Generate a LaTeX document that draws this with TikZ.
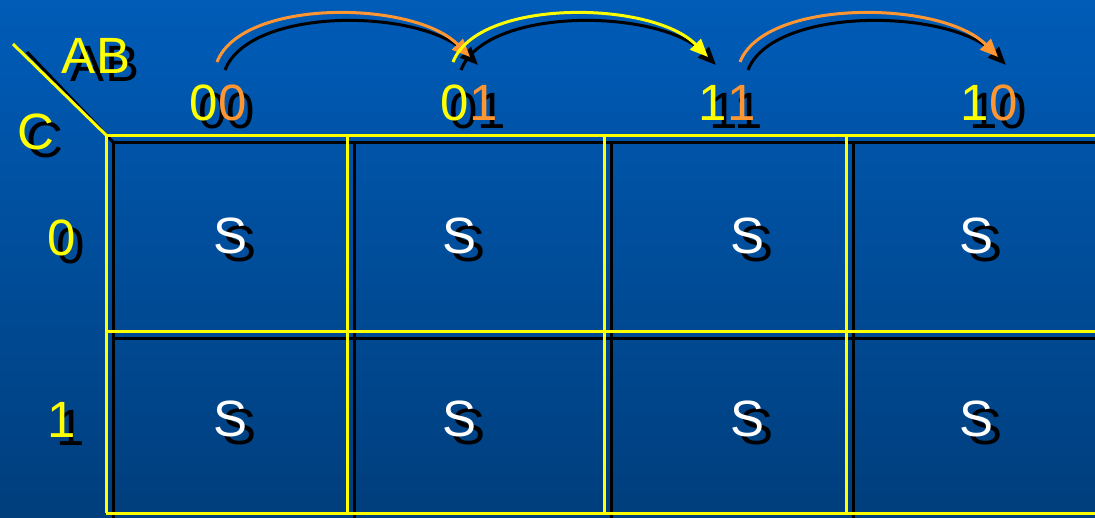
\documentclass[tikz,border=0pt]{standalone}
\usepackage{fontspec}
\setmainfont{Liberation Sans}
\usetikzlibrary{arrows.meta}
\definecolor{kyel}{RGB}{255,255,0}
\definecolor{korg}{RGB}{255,150,50}
\definecolor{ktop}{RGB}{0,92,184}
\definecolor{kbot}{RGB}{0,62,124}

\begin{document}
\begin{tikzpicture}[x=1pt, y=-1pt,
  lbl/.style={inner sep=0pt, font=\fontsize{51}{60}\selectfont},
  shd/.style={lbl, text=black},
  gline/.style={draw=kyel, line width=3pt},
  gshd/.style={draw=black, line width=3pt},
  jump/.style={line width=3pt, -{Triangle[length=18pt, width=15pt]}}]
\useasboundingbox (0,0) rectangle (1095,517);
\clip (0,0) rectangle (1095,517);
\shade[top color=ktop, bottom color=kbot] (0,0) rectangle (1095,517);
% grid, shadow first
\draw[gshd] (27,52) -- (113,142);
\begin{scope}[shift={(7,7)}]
\draw[gshd] (106,135) -- (1120,135);
\draw[gshd] (106,331) -- (1120,331);
\draw[gshd] (106,513) -- (1120,513);
\draw[gshd] (106,135) -- (106,513);
\draw[gshd] (347,135) -- (347,513);
\draw[gshd] (604,135) -- (604,513);
\draw[gshd] (846,135) -- (846,513);
\end{scope}
\draw[gline] (13,44) -- (106,135);
\draw[gline] (106,135) -- (1120,135);
\draw[gline] (106,331) -- (1120,331);
\draw[gline] (106,513) -- (1120,513);
\draw[gline] (106,135) -- (106,513);
\draw[gline] (347,135) -- (347,513);
\draw[gline] (604,135) -- (604,513);
\draw[gline] (846,135) -- (846,513);
% labels
\node[shd] (abs) at (105,64) {AB};
\node[shd] (cs) at (45,140) {C};
\node[shd] (col00s) at (227,111) {00};
\node[shd] (col01s) at (478,111) {01};
\node[shd] (col11s) at (736,111) {11};
\node[shd] (col10s) at (998,111) {10};
\node[shd] (row0s) at (71,246) {0};
\node[shd] (row1s) at (71,428) {1};
\node[lbl, text=kyel] (ab) at (96,56) {AB};
\node[lbl, text=kyel] (c) at (36,132) {C};
\node[lbl] (col00) at (218,103) {\color{kyel}0\color{korg}0};
\node[lbl] (col01) at (469,103) {\color{kyel}0\color{korg}1};
\node[lbl] (col11) at (727,103) {\color{kyel}1\color{korg}1};
\node[lbl] (col10) at (989,103) {\color{kyel}1\color{korg}0};
\node[lbl, text=kyel] (row0) at (62,238) {0};
\node[lbl, text=kyel] (row1) at (62,420) {1};
% cells
\foreach \r/\y in {0/236, 1/419}
  \foreach \k/\x in {1/231, 2/460, 3/747, 4/976} {
    \node[shd] (s\r\k s) at (\x+9,\y+8) {S};
    \node[lbl, text=white] (s\r\k) at (\x,\y) {S};
  }
% gray code steps
\coordinate (f1) at (217,62);
\coordinate (t1) at (470,57);
\coordinate (f2) at (453,62);
\coordinate (t2) at (708,57);
\coordinate (f3) at (740,62);
\coordinate (t3) at (998,57);
\foreach \i in {1,2,3}
  \draw[jump, black, transform canvas={xshift=8pt, yshift=-8pt}] (f\i) .. controls +(25,-64) and +(-56,-57) .. (t\i);
\foreach \i/\col in {1/korg, 2/kyel, 3/korg}
  \draw[jump, \col] (f\i) .. controls +(25,-64) and +(-56,-57) .. (t\i);
\end{tikzpicture}
\end{document}
